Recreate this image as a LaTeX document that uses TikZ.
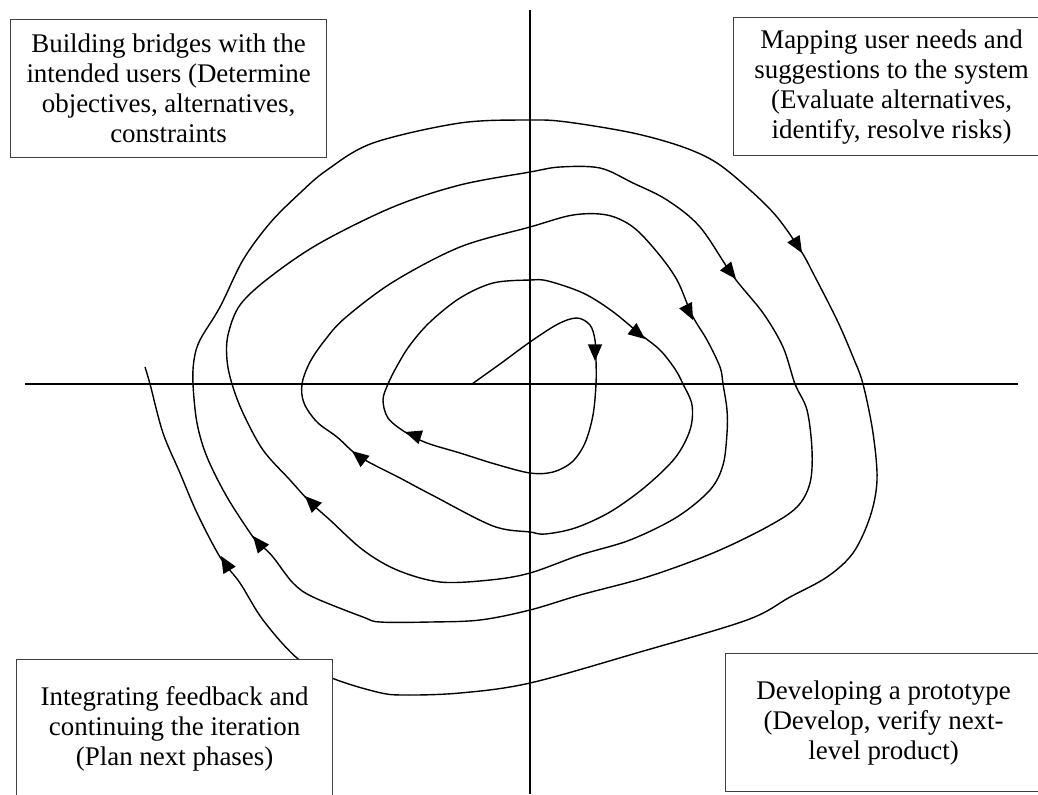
\documentclass[tikz,border=0pt]{standalone}
\usepackage{fontspec}
\setmainfont{Liberation Serif}
\usetikzlibrary{arrows.meta}

\begin{document}
\begin{tikzpicture}[x=0.75pt, y=-0.75pt,
    quadrant/.style={draw=black!75, line width=0.9pt, fill=white, rectangle, anchor=north west, minimum width=237pt, minimum height=103.5pt, align=center, inner sep=2pt, font=\fontsize{20.2}{22.5}\selectfont},
    axis/.style={line width=1.3pt},
    spiral/.style={line width=1.05pt, line join=round},
    flow/.style={line width=1.05pt, -{Triangle[length=12.5pt, width=10.5pt]}}]
				\useasboundingbox (0,0) rectangle (1038,794);
				\clip (0,0) rectangle (1038,794);
				\draw[axis] (25,384) -- (1018,384);
				\draw[axis] (530,10) -- (530,794);
				\draw[spiral] plot[smooth, tension=0.55] coordinates {
					(472,384) (500,364) (530,342) (558,324) (577,318) (590,325) (595,340) (596,360) (596,384)
					(593,415) (585,443) (572,462) (553,472) (530,473) (495,464) (460,453) (427,443) (405,432)
					(388,418) (383,400) (388,384) (397,366) (410,345) (430,322) (460,298) (493,283) (530,280)
					(548,281) (583,293) (612,311) (640,334) (660,350) (675,369) (683,384) (692,405) (690,430)
					(675,458) (645,487) (610,512) (575,528) (545,534) (530,532) (493,526) (432,495) (400,478)
					(360,457) (337,437) (317,422) (304,403) (302,384) (310,362) (325,340) (345,318) (393,282)
					(460,247) (530,227) (573,215) (607,215) (633,227) (657,252) (677,280) (692,315) (707,340)
					(720,367) (723,384) (727,410) (727,433) (723,465) (710,490) (677,517) (630,540) (580,555)
					(530,573) (490,580) (440,582) (397,570) (363,550) (330,520) (310,502) (290,480) (263,450)
					(243,413) (232,384) (227,360) (228,335) (240,305) (270,277) (320,243) (393,207) (460,185)
					(530,172) (560,167) (600,168) (633,183) (667,200) (700,227) (733,276) (763,313) (783,347)
					(795,384) (807,410) (812,450) (810,483) (797,507) (767,527) (713,553) (647,577) (580,595)
					(530,610) (480,620) (430,622) (380,622) (363,617) (313,597) (293,583) (273,557) (261,545)
					(253,537) (227,497) (207,457) (197,423) (193,384) (194,360) (200,340) (220,307) (243,260)
					(270,223) (300,193) (327,170) (373,143) (460,123) (530,120) (567,122) (633,133) (683,147)
					(717,163) (750,190) (777,217) (801,251) (813,273) (837,320) (853,357) (863,384) (873,433)
					(877,480) (870,517) (853,553) (827,577) (790,597) (747,620) (640,652) (530,683) (460,693)
					(403,695) (377,692) (332,678) (297,658) (263,620) (240,583) (220,557) (197,513) (180,473)
					(163,433) (150,384) (145,367)};
				\draw[flow] (595,355) -- (595,361);
				\draw[flow] (640,335) -- (645,339);
				\draw[flow] (690,314) -- (693,320);
				\draw[flow] (732,274) -- (736,279);
				\draw[flow] (799,248) -- (802,253);
				\draw[flow] (411,434) -- (405,432);
				\draw[flow] (357,455) -- (352,451);
				\draw[flow] (309,500) -- (305,496);
				\draw[flow] (257,541) -- (253,536);
				\draw[flow] (224,561) -- (221,556);
				\node[quadrant] (objectives) at (10,19) {Building bridges with the\\intended users (Determine\\objectives, alternatives,\\constraints};
				\node[quadrant] (risks) at (733,17) {Mapping user needs and\\suggestions to the system\\(Evaluate alternatives,\\identify, resolve risks)};
				\node[quadrant] (feedback) at (16,659) {Integrating feedback and\\continuing the iteration\\(Plan next phases)};
				\node[quadrant] (prototype) at (725,653) {Developing a prototype\\(Develop, verify next-\\level product)};
			\end{tikzpicture}
\end{document}
